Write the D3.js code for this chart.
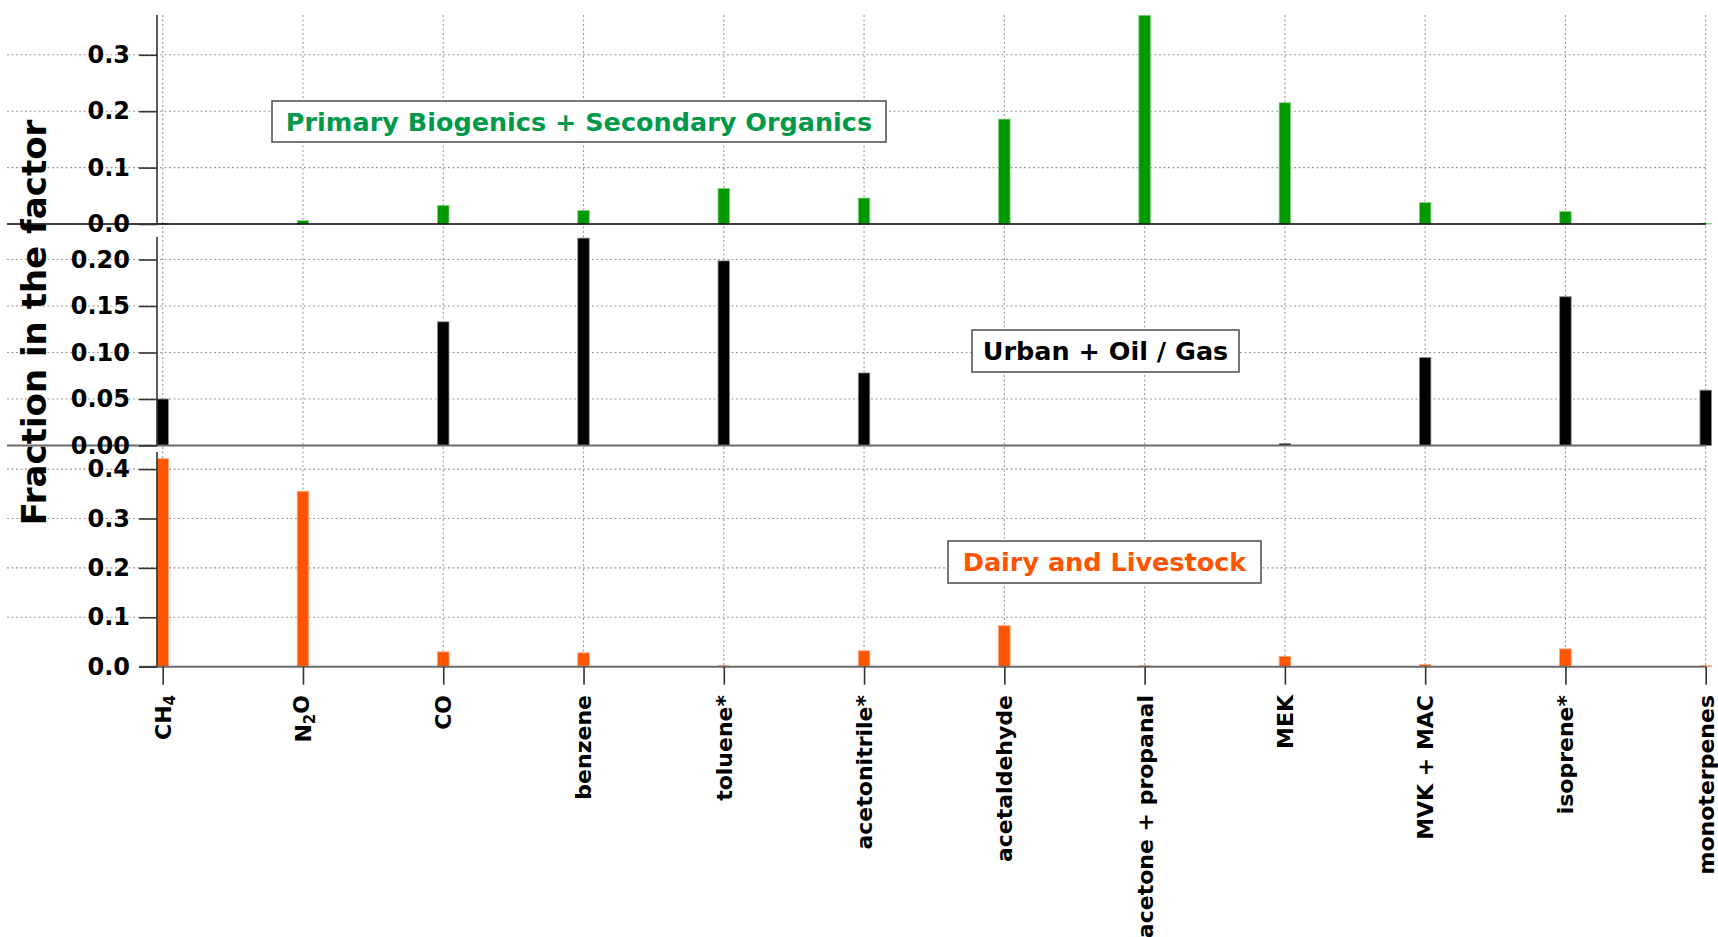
<!DOCTYPE html>
<html>
<head>
<meta charset="utf-8">
<script src="https://cdn.jsdelivr.net/npm/d3@7"></script>
<style>
  html, body { margin: 0; padding: 0; background: #fff; }
  svg { display: block; }
  text { font-family: "DejaVu Sans", sans-serif; font-weight: bold; }
</style>
</head>
<body>
<svg id="chart" width="1718" height="937"></svg>
<script>
// ---------- data ----------
const categories = ["CH4", "N2O", "CO", "benzene", "toluene*", "acetonitrile*", "acetaldehyde",
  "acetone + propanal", "MEK", "MVK + MAC", "isoprene*", "monoterpenes"];

const biogenicValues = [0.001, 0.006, 0.033, 0.024, 0.063, 0.046, 0.186, 0.370, 0.215, 0.038, 0.022, 0.001];
const urbanValues    = [0.050, 0.000, 0.133, 0.223, 0.1985, 0.078, 0.000, 0.000, 0.002, 0.0945, 0.160, 0.0595];
const dairyValues    = [0.421, 0.355, 0.030, 0.028, 0.002, 0.032, 0.083, 0.002, 0.021, 0.004, 0.036, 0.002];

const biogenicTicks = [0.0, 0.1, 0.2, 0.3];
const urbanTicks    = [0.00, 0.05, 0.10, 0.15, 0.20];
const dairyTicks    = [0.0, 0.1, 0.2, 0.3, 0.4];

const factorNames = ["Primary Biogenics + Secondary Organics", "Urban + Oil / Gas", "Dairy and Livestock"];
const yTitle = "Fraction in the factor";

// ---------- layout ----------
const svg = d3.select("#chart");
const axisLeftX = 157;
const gridLeftX = 7;
const gridRightX = 1706;

const x = d3.scalePoint().domain(categories).range([162.7, 1705.7]);
const barW = 11.5;

const panels = [
  { values: biogenicValues, ticks: biogenicTicks, fmt: d3.format(".1f"), domainMax: 0.3706, y0: 224, y1: 15,
    color: "#009900", edge: "#7fd37f", zeroColor: "#000", zeroWidth: 1.6, zeroFromGrid: true,
    name: factorNames[0], textColor: "#00994c", box: [272, 101, 886, 142] },
  { values: urbanValues, ticks: urbanTicks, fmt: d3.format(".2f"), domainMax: 0.2242, y0: 445.5, y1: 237,
    color: "#000000", edge: "#8a8a8a", zeroColor: "#6b6b6b", zeroWidth: 2, zeroFromGrid: true,
    name: factorNames[1], textColor: "#000000", box: [972, 330, 1239, 372] },
  { values: dairyValues, ticks: dairyTicks, fmt: d3.format(".1f"), domainMax: 0.4346, y0: 666.7, y1: 452,
    color: "#ff5500", edge: "#ffa27a", zeroColor: "#6b6b6b", zeroWidth: 2, zeroFromGrid: false,
    name: factorNames[2], textColor: "#ff5500", box: [948, 541, 1261, 583] }
];

// vertical dotted grid spanning all panels
svg.append("g").selectAll("line").data(categories).join("line")
  .attr("x1", d => x(d)).attr("x2", d => x(d))
  .attr("y1", 15).attr("y2", 666.7)
  .attr("stroke", "#9a9a9a").attr("stroke-width", 1.1).attr("stroke-dasharray", "2,2.5");

panels.forEach(p => {
  const y = d3.scaleLinear().domain([0, p.domainMax]).range([p.y0, p.y1]);
  const g = svg.append("g");

  // horizontal grid (dotted), extending left under labels
  g.append("g").selectAll("line").data(p.ticks.filter(t => t > 0)).join("line")
    .attr("x1", gridLeftX).attr("x2", gridRightX)
    .attr("y1", d => y(d)).attr("y2", d => y(d))
    .attr("stroke", "#9a9a9a").attr("stroke-width", 1.1).attr("stroke-dasharray", "2,2.5");

  // label box
  const [bx0, by0, bx1, by1] = p.box;
  g.append("rect").attr("x", bx0).attr("y", by0).attr("width", bx1 - bx0).attr("height", by1 - by0)
    .attr("fill", "#fff").attr("stroke", "#555").attr("stroke-width", 1.6);
  g.append("text").attr("x", (bx0 + bx1) / 2).attr("y", (by0 + by1) / 2).attr("dy", "0.36em")
    .attr("text-anchor", "middle").attr("font-size", "25.5px").attr("fill", p.textColor)
    .text(p.name);

  // bars
  g.append("g").selectAll("rect").data(p.values).join("rect")
    .attr("x", (d, i) => x(categories[i]) - barW / 2)
    .attr("y", d => y(d))
    .attr("width", barW)
    .attr("height", d => Math.max(0, p.y0 - y(d)))
    .attr("fill", p.color)
    .attr("stroke", p.edge).attr("stroke-width", 0.8);

  // zero line
  g.append("line")
    .attr("x1", p.zeroFromGrid ? gridLeftX : axisLeftX - 18).attr("x2", gridRightX)
    .attr("y1", p.y0).attr("y2", p.y0)
    .attr("stroke", p.zeroColor).attr("stroke-width", p.zeroWidth);

  // left axis
  const ax = d3.axisLeft(y).tickValues(p.ticks).tickFormat(p.fmt).tickSizeOuter(0).tickSize(18).tickPadding(9);
  const axg = g.append("g").attr("transform", `translate(${axisLeftX},0)`).call(ax);
  axg.select(".domain").attr("d", `M0,${p.y1}V${p.y0}`).attr("stroke", "#333").attr("stroke-width", 1.6);
  axg.selectAll(".tick line").attr("stroke", "#333").attr("stroke-width", 1.6);
  axg.selectAll(".tick text").attr("font-size", "24px").attr("fill", "#000")
    .attr("font-family", "DejaVu Sans, sans-serif").attr("font-weight", "bold");
});

// bottom axis ticks and labels
const bottomY = 666.7;
const bx = d3.axisBottom(x).tickSize(18).tickSizeOuter(0).tickFormat("");
const bxg = svg.append("g").attr("transform", `translate(0,${bottomY})`).call(bx);
bxg.select(".domain").remove();
bxg.selectAll(".tick line").attr("stroke", "#333").attr("stroke-width", 1.6);

const labelG = svg.append("g");
categories.forEach(c => {
  const t = labelG.append("text")
    .attr("transform", `translate(${x(c)},695) rotate(-90)`)
    .attr("text-anchor", "end").attr("dy", "0.36em")
    .attr("font-size", "22px").attr("fill", "#000");
  const m = c.match(/^([A-Z]+)(\d)([A-Z]*)$/);
  if (m) {
    t.append("tspan").text(m[1]);
    t.append("tspan").attr("font-size", "15px").attr("dy", "0.3em").text(m[2]);
    if (m[3]) t.append("tspan").attr("dy", "-0.3em").text(m[3]);
  } else {
    t.text(c);
  }
});

// y title
svg.append("text")
  .attr("transform", "translate(45.5,322.5) rotate(-90)")
  .attr("text-anchor", "middle").attr("font-size", "34px").attr("fill", "#000")
  .text(yTitle);
</script>
</body>
</html>
